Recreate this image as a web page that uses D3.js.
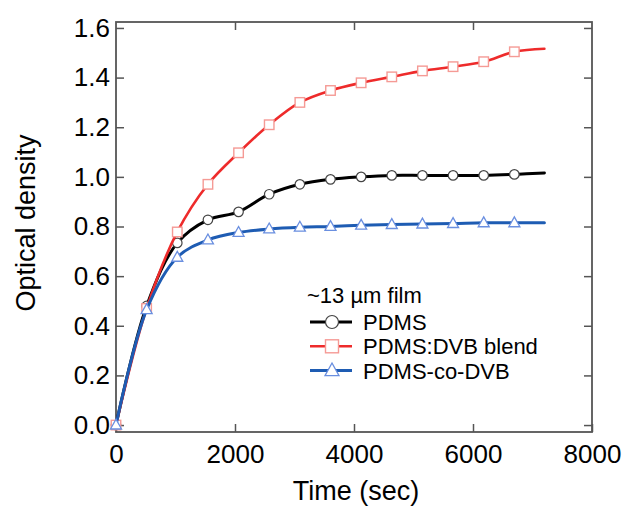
<!DOCTYPE html>
<html>
<head>
<meta charset="utf-8">
<script src="https://cdn.jsdelivr.net/npm/d3@7/dist/d3.min.js"></script>
<style>
  body { margin: 0; background: #fff; }
  text { font-family: "Liberation Sans", Arial, sans-serif; fill: #000; }
</style>
</head>
<body>
<div id="chart"></div>
<script>
// time in seconds; last point closes the curve and has no marker
var times = [0, 515, 1030, 1545, 2060, 2575, 3090, 3605, 4120, 4635, 5150, 5665, 6180, 6695, 7200];
var pdms = [0, 0.48, 0.734, 0.827, 0.859, 0.93, 0.97, 0.99, 1.0, 1.006, 1.006, 1.006, 1.006, 1.01, 1.016];
var blend = [0, 0.47, 0.778, 0.97, 1.097, 1.21, 1.30, 1.348, 1.379, 1.403, 1.427, 1.444, 1.464, 1.504, 1.516];
var codvb = [0, 0.465, 0.676, 0.746, 0.776, 0.79, 0.797, 0.80, 0.805, 0.808, 0.81, 0.812, 0.815, 0.815, 0.815];
var xTicks = [0, 2000, 4000, 6000, 8000];
var yTicks = [0, 0.2, 0.4, 0.6, 0.8, 1.0, 1.2, 1.4, 1.6];

var series = [
  { name: 'PDMS', values: pdms, line: '#000000', mark: '#444444', shape: 'circle', lw: 3 },
  { name: 'PDMS:DVB blend', values: blend, line: '#ee2b2b', mark: '#f59a95', shape: 'square', lw: 2.6 },
  { name: 'PDMS-co-DVB', values: codvb, line: '#1e5cb3', mark: '#6a8fe0', shape: 'triangle', lw: 3 }
];

var W = 622, H = 507;
var margin = { top: 22, right: 30, bottom: 75, left: 116 };
var iw = W - margin.left - margin.right;
var ih = H - margin.top - margin.bottom;

var x = d3.scaleLinear().domain([0, 8000]).range([0, iw]);
var y = d3.scaleLinear().domain([-0.028, 1.624]).range([ih, 0]);

var svg = d3.select('#chart').append('svg').attr('width', W).attr('height', H);
var g = svg.append('g').attr('transform', 'translate(' + margin.left + ',' + margin.top + ')');

var tickLen = 8, axisCol = '#555';

// axes (ticks inward on all four sides)
var fmtY = d3.format('.1f');
g.append('g').attr('transform', 'translate(0,' + ih + ')')
  .call(d3.axisBottom(x).tickValues(xTicks).tickSizeInner(-tickLen).tickSizeOuter(0).tickPadding(13).tickFormat(d3.format('d')));
g.append('g')
  .call(d3.axisLeft(y).tickValues(yTicks).tickSizeInner(-tickLen).tickSizeOuter(0).tickPadding(6).tickFormat(fmtY));
g.append('g')
  .call(d3.axisTop(x).tickValues(xTicks.slice(1, -1)).tickSizeInner(-tickLen).tickSizeOuter(0).tickFormat(''));
g.append('g').attr('transform', 'translate(' + iw + ',0)')
  .call(d3.axisRight(y).tickValues(yTicks).tickSizeInner(-tickLen).tickSizeOuter(0).tickFormat(''));

g.selectAll('.domain').remove();
g.selectAll('.tick line').attr('stroke', axisCol).attr('stroke-width', 1.5);
g.selectAll('.tick text').attr('font-size', 26).attr('fill', '#000')
  .style('font-family', '"Liberation Sans", Arial, sans-serif');

g.append('rect').attr('width', iw).attr('height', ih)
  .attr('fill', 'none').attr('stroke', axisCol).attr('stroke-width', 1.8);

// axis titles
svg.append('text').attr('x', margin.left + iw / 2 + 2).attr('y', 500)
  .attr('text-anchor', 'middle').attr('font-size', 27).text('Time (sec)');
svg.append('text').attr('transform', 'translate(35,223) rotate(-90)')
  .attr('text-anchor', 'middle').attr('font-size', 27).text('Optical density');

function drawMarker(sel, shape, cx, cy, size, col) {
  if (shape === 'circle') {
    sel.append('circle').attr('cx', cx).attr('cy', cy).attr('r', size / 2)
      .attr('fill', '#fff').attr('stroke', col).attr('stroke-width', 1.2);
  } else if (shape === 'square') {
    sel.append('rect').attr('x', cx - size / 2).attr('y', cy - size / 2)
      .attr('width', size).attr('height', size)
      .attr('fill', '#fff').attr('stroke', col).attr('stroke-width', 1.4);
  } else {
    var h = size * 0.9;
    sel.append('path')
      .attr('d', 'M' + cx + ',' + (cy - h * 0.6) + 'L' + (cx + size / 2) + ',' + (cy + h * 0.4) + 'L' + (cx - size / 2) + ',' + (cy + h * 0.4) + 'Z')
      .attr('fill', '#fff').attr('stroke', col).attr('stroke-width', 1.3);
  }
}

var line = d3.line()
  .x(function (d) { return x(d[0]); })
  .y(function (d) { return y(d[1]); })
  .curve(d3.curveCatmullRom.alpha(0.5));

series.forEach(function (s) {
  var pts = times.map(function (t, i) { return [t, s.values[i]]; });
  g.append('path').datum(pts).attr('d', line)
    .attr('fill', 'none').attr('stroke', s.line).attr('stroke-width', s.lw)
    .attr('stroke-linejoin', 'round').attr('stroke-linecap', 'round');
  var mg = g.append('g');
  pts.slice(0, -1).forEach(function (p) {
    drawMarker(mg, s.shape, x(p[0]), y(p[1]), s.shape === 'triangle' ? 11 : 9.5, s.mark);
  });
});

// legend
var lg = svg.append('g');
lg.append('text').attr('x', 307).attr('y', 303).attr('font-size', 22).text('~13 \u00b5m film');
series.forEach(function (s, i) {
  var cy = 322 + i * 24.3;
  lg.append('line').attr('x1', 310).attr('x2', 352).attr('y1', cy).attr('y2', cy)
    .attr('stroke', s.line).attr('stroke-width', s.lw);
  drawMarker(lg, s.shape, 332, cy, s.shape === 'triangle' ? 14 : 13, s.mark);
  lg.append('text').attr('x', 363).attr('y', cy + 8).attr('font-size', 22).text(s.name);
});
</script>
</body>
</html>
